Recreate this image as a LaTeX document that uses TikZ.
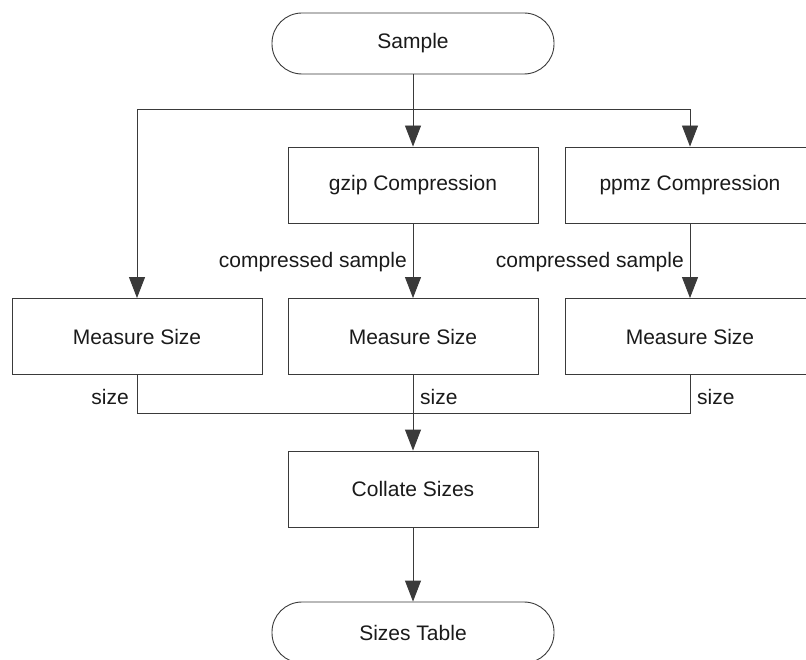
\documentclass[tikz,border=0pt]{standalone}
\usepackage{fontspec}
\setmainfont{Liberation Sans}
\usetikzlibrary{arrows.meta}
\definecolor{linec}{HTML}{3A3A3A}
\definecolor{textc}{HTML}{1A1A1A}
\tikzset{
  procbox/.style={draw=linec, line width=0.9pt, rectangle, minimum width=250pt, minimum height=76pt, inner sep=0pt, text=textc, font=\fontsize{21}{25}\selectfont},
  termbox/.style={draw=linec, line width=0.9pt, rectangle, rounded corners=30pt, minimum width=282pt, minimum height=61pt, inner sep=0pt, text=textc, font=\fontsize{21}{25}\selectfont},
  conn/.style={draw=linec, line width=0.9pt},
  arr/.style={conn, -{Triangle[length=21pt, width=16pt]}},
  lbl/.style={text=textc, inner sep=0pt, font=\fontsize{21}{25}\selectfont}
}
\begin{document}
\begin{tikzpicture}[x=1pt, y=-1pt]
\useasboundingbox (0,0) rectangle (806,660);
\clip (0,0) rectangle (806,660);
\node[termbox] (sample) at (413,43.5) {Sample};
\node[procbox] (gzip) at (413,185) {gzip Compression};
\node[procbox] (ppmz) at (690,185) {ppmz Compression};
\node[procbox] (measL) at (137,336.5) {Measure Size};
\node[procbox] (measM) at (413,336.5) {Measure Size};
\node[procbox] (measR) at (690,336.5) {Measure Size};
\node[procbox] (collate) at (413,489) {Collate Sizes};
\node[termbox] (table) at (413,632.5) {Sizes Table};
\coordinate (split) at (413,109);
\coordinate (merge) at (413,413);
\draw[conn] (sample.south) -- (split);
\draw[arr] (split) -- (gzip.north);
\draw[arr] (split) -| (measL.north);
\draw[arr] (split) -| (ppmz.north);
\draw[arr] (gzip.south) -- (measM.north);
\draw[arr] (ppmz.south) -- (measR.north);
\node[lbl, anchor=east] (cs1) at (407,262) {compressed sample};
\node[lbl, anchor=east] (cs2) at (684,262) {compressed sample};
\draw[conn] (measL.south) |- (merge);
\draw[conn] (measR.south) |- (merge);
\draw[arr] (measM.south) -- (collate.north);
\draw[arr] (collate.south) -- (table.north);
\node[lbl, anchor=east] (sz1) at (129,397) {size};
\node[lbl, anchor=west] (sz2) at (420,397) {size};
\node[lbl, anchor=west] (sz3) at (697,397) {size};
\end{tikzpicture}
\end{document}
